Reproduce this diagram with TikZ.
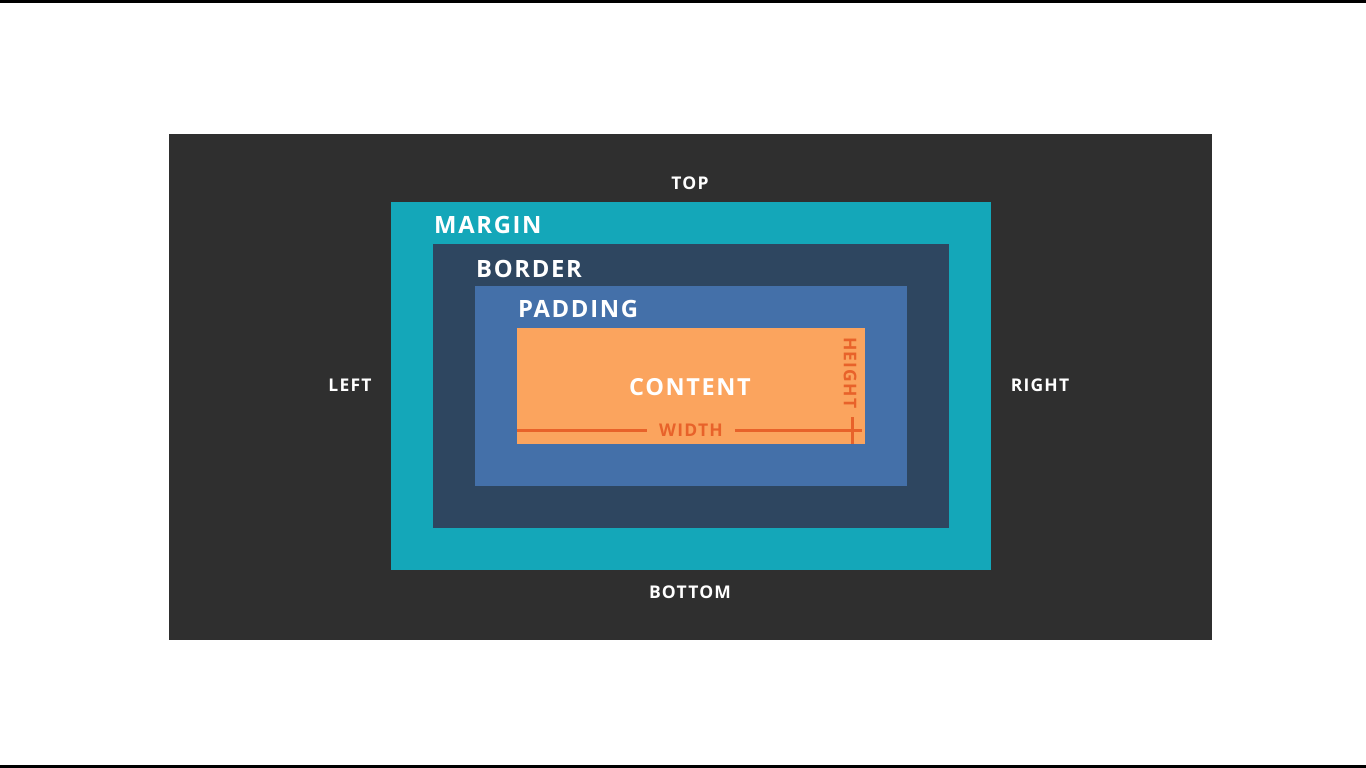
\documentclass[tikz,border=0pt]{standalone}
\usepackage{fontspec}
\setmainfont{Open Sans}[LetterSpace=7]
\definecolor{bgdark}{HTML}{2F2F2F}
\definecolor{marginc}{HTML}{14A7B9}
\definecolor{borderc}{HTML}{2E4660}
\definecolor{paddingc}{HTML}{4470A9}
\definecolor{contentc}{HTML}{FBA45E}
\definecolor{dimc}{HTML}{E8622A}
\begin{document}
\begin{tikzpicture}[x=1pt,y=-1pt,
  lbl/.style={text=white,font=\bfseries\fontsize{17.5}{17.5}\selectfont,inner sep=0pt},
  boxlbl/.style={text=white,font=\bfseries\fontsize{23.8}{23.8}\selectfont,inner sep=0pt,anchor=west},
  dim/.style={text=dimc,font=\bfseries\fontsize{17.5}{17.5}\selectfont,inner sep=0pt},
  dimline/.style={draw=dimc,line width=3pt}]
\useasboundingbox (0,0) rectangle (1366,768);
\fill[white] (0,0) rectangle (1366,768);
\fill[black] (0,0) rectangle (1366,3);
\fill[black] (0,765) rectangle (1366,768);
\fill[bgdark] (169,134) rectangle (1212,640);
\fill[marginc] (391,202) rectangle (991,570);
\fill[borderc] (433,244) rectangle (949,528);
\fill[paddingc] (475,286) rectangle (907,486);
\fill[contentc] (517,328) rectangle (865,444);
\node[lbl] (top) at (690,183) {TOP};
\node[lbl] (bottom) at (690,592) {BOTTOM};
\node[lbl] (left) at (350,385) {LEFT};
\node[lbl] (right) at (1040,385) {RIGHT};
\node[boxlbl] (margin) at (434,225) {MARGIN};
\node[boxlbl] (border) at (476,269) {BORDER};
\node[boxlbl] (padding) at (518,309) {PADDING};
\node[text=white,font=\bfseries\fontsize{23.5}{23.5}\selectfont,inner sep=0pt] (content) at (690,387) {CONTENT};
\node[dim] (width) at (691,430) {WIDTH};
\node[dim,rotate=-90] (height) at (850,373) {HEIGHT};
\coordinate (wl) at (517,430);
\coordinate (wr) at (862,430);
\coordinate (ht) at (852,417);
\coordinate (hb) at (852,444);
\draw[dimline] (wl) -- ([xshift=-12pt]width.west);
\draw[dimline] ([xshift=12pt]width.east) -- (wr);
\draw[dimline] (ht) -- (hb);
\end{tikzpicture}
\end{document}
